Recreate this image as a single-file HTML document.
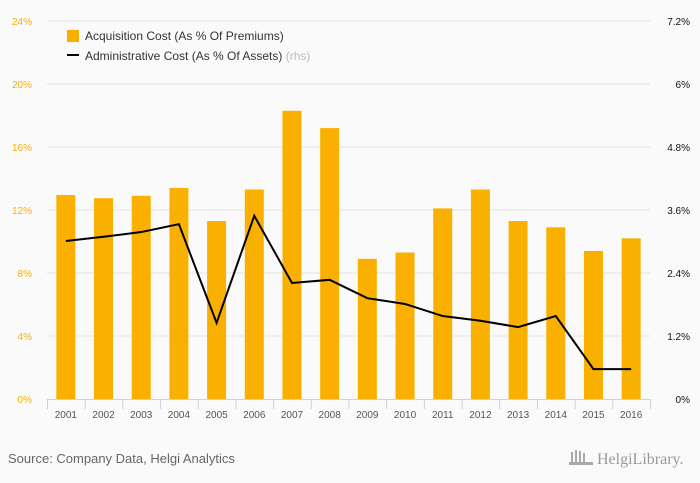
<!DOCTYPE html>
<html><head><meta charset="utf-8"><style>
body{margin:0;background:#fafafa;font-family:"Liberation Sans",sans-serif;}
svg{display:block}
</style></head><body>
<svg id="c" width="700" height="483">
<rect width="700" height="483" fill="#fafafa"/>
<g id="grid"></g><g id="bars"></g><g id="line"></g><g id="axes"></g>
<g>
<rect x="67" y="30" width="12" height="12" fill="#f9b000"/>
<text x="85" y="40" font-size="12" fill="#333">Acquisition Cost (As % Of Premiums)</text>
<line x1="67" y1="55" x2="79" y2="55" stroke="#000" stroke-width="2"/>
<text x="85" y="60" font-size="12" fill="#333">Administrative Cost (As % Of Assets) <tspan fill="#bbb">(rhs)</tspan></text>
</g>
<text x="8" y="463" font-size="13" fill="#666">Source: Company Data, Helgi Analytics</text>
<text x="597" y="464" font-size="16" fill="#999" font-family="Liberation Serif,serif">HelgiLibrary.</text>
<g fill="#aaa"><rect x="571" y="452" width="2" height="10"/><rect x="575" y="450" width="2" height="12"/><rect x="579" y="451" width="2" height="11"/><rect x="583" y="453" width="2" height="9"/><rect x="569" y="462" width="24" height="3"/></g>
</svg>
<script>
const categories=["2001","2002","2003","2004","2005","2006","2007","2008","2009","2010","2011","2012","2013","2014","2015","2016"];
const acquisition=[12.95,12.75,12.9,13.4,11.3,13.3,18.3,17.2,8.9,9.3,12.1,13.3,11.3,10.9,9.4,10.2];
const admin=[3.01,3.09,3.18,3.33,1.45,3.49,2.21,2.27,1.92,1.81,1.58,1.49,1.37,1.58,0.57,0.57];
const leftTicks=[0,4,8,12,16,20,24];
const rightTicks=[0,1.2,2.4,3.6,4.8,6,7.2];
const NS="http://www.w3.org/2000/svg";
const X0=47,X1=650,Y0=399,Y1=21;
const band=(X1-X0)/categories.length;
const xC=i=>X0+band*(i+0.5);
const yL=v=>Y0-(v/24)*(Y0-Y1);
const yR=v=>Y0-(v/7.2)*(Y0-Y1);
function mk(tag,attrs,parent,txt){const e=document.createElementNS(NS,tag);for(const k in attrs)e.setAttribute(k,attrs[k]);if(txt!==undefined)e.textContent=txt;document.getElementById(parent).appendChild(e);return e;}
leftTicks.forEach((t,i)=>{
  if(t>0){const g=mk('line',{x1:X0,x2:X1,y1:yL(t),y2:yL(t),stroke:'#e3e3e3','stroke-width':1},'grid');
  
  }
  const l=mk('text',{x:32,y:yL(t)+4,'font-size':10,fill:'#f9b000','text-anchor':'end'},'axes',t+'%');
  
  
  const r=mk('text',{x:690,y:yR(rightTicks[i])+4,'font-size':10,fill:'#111','text-anchor':'end'},'axes',rightTicks[i]+'%');
  
  
});
const ax=mk('line',{x1:X0,x2:X1,y1:Y0+0.5,y2:Y0+0.5,stroke:'#c8d3e6'},'axes');


categories.forEach((c,i)=>{
  const b=mk('rect',{x:xC(i)-9.5,y:yL(acquisition[i]),width:19,height:Y0-yL(acquisition[i]),fill:'#f9b000'},'bars');
  
  
  const tk=mk('line',{x1:X0+band*i+0.5,x2:X0+band*i+0.5,y1:Y0,y2:Y0+10,stroke:'#c8d3e6'},'axes');
  
  
  const t=mk('text',{x:xC(i),y:Y0+19,'font-size':10,fill:'#555','text-anchor':'middle'},'axes',c);
  
  
});
const tkE=mk('line',{x1:X1+0.5,x2:X1+0.5,y1:Y0,y2:Y0+10,stroke:'#c8d3e6'},'axes');


const pl=mk('polyline',{points:admin.map((v,i)=>xC(i)+','+yR(v)).join(' '),fill:'none',stroke:'#000','stroke-width':2},'line');


</script>
</body></html>
